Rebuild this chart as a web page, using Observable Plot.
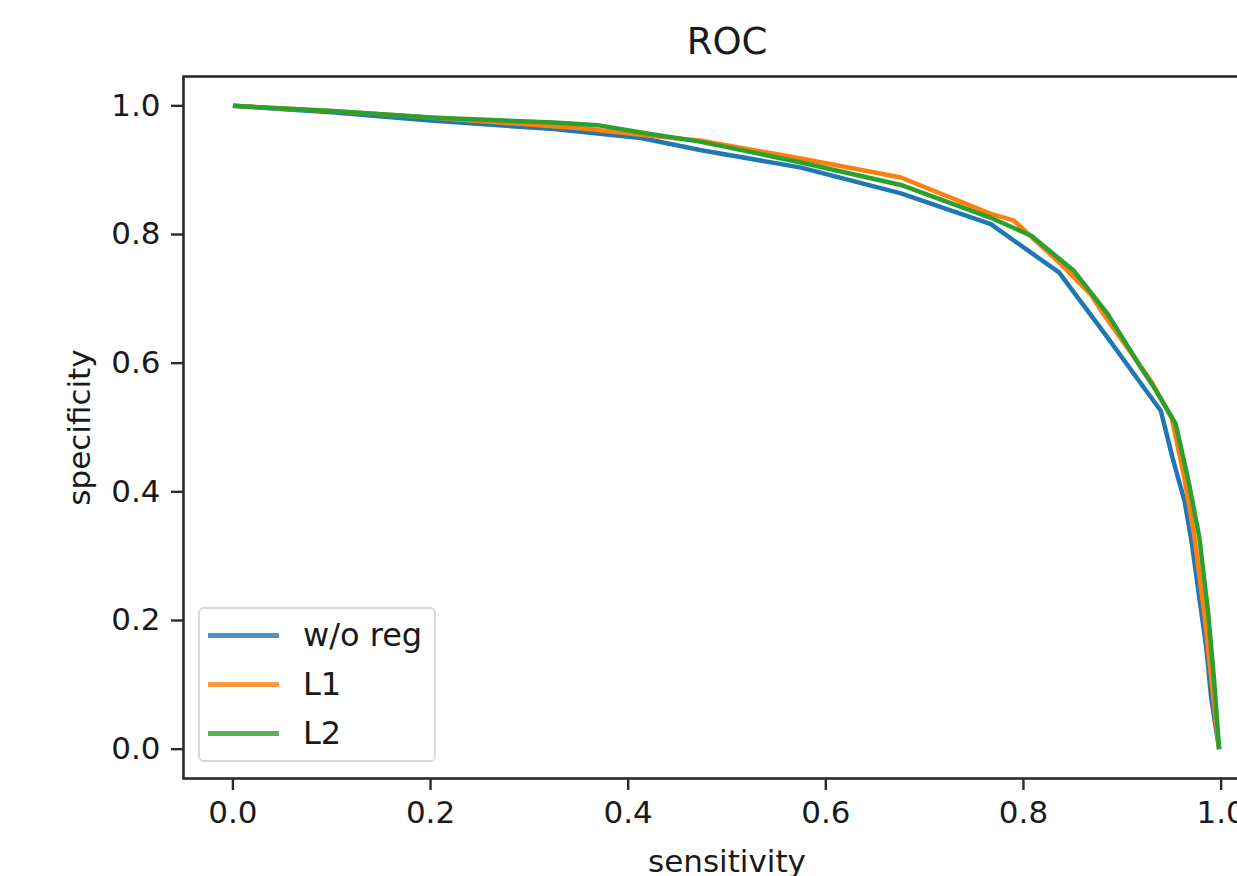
<!DOCTYPE html>
<html><head><meta charset="utf-8">
<script src="https://cdn.jsdelivr.net/npm/d3@7"></script>
<script src="https://cdn.jsdelivr.net/npm/@observablehq/plot@0.6"></script>
<style>
html,body{margin:0;padding:0;background:#fff;overflow:hidden}
#wrap{position:relative;width:1237px;height:876px;overflow:hidden}
#legend{position:absolute;left:198px;top:607px;width:234px;height:151px;border:2.5px solid #d9d9d9;border-radius:6px;background:rgba(255,255,255,0.8);font-family:"DejaVu Sans";font-size:32px;color:#1a1a1a}
.lrow{position:absolute;left:0;height:40px}
.lline{position:absolute;left:8px;width:71px;height:5px}
.ltext{position:absolute;left:103px;line-height:40px;white-space:nowrap}
</style></head>
<body><div id="wrap"></div>
<script>
const title = "ROC";
const xLabel = "sensitivity";
const yLabel = "specificity";
const seriesNames = ["w/o reg", "L1", "L2"];
const seriesColors = ["#1f77b4", "#ff7f0e", "#2ca02c"];
const xTicks = [0, 0.2, 0.4, 0.6, 0.8, 1.0];
const yTicks = [0, 0.2, 0.4, 0.6, 0.8, 1.0];

const sensWoReg = [0, 0.1, 0.2, 0.325, 0.413, 0.474, 0.575, 0.676, 0.767, 0.836, 0.885, 0.919, 0.939, 0.951, 0.963, 0.970, 0.978, 0.985, 0.990, 0.998];
const specWoReg = [1.0, 0.99, 0.977, 0.964, 0.950, 0.931, 0.904, 0.864, 0.816, 0.741, 0.640, 0.568, 0.526, 0.452, 0.386, 0.324, 0.235, 0.158, 0.080, 0.0];

const sensL1 = [0, 0.1, 0.2, 0.352, 0.413, 0.474, 0.575, 0.676, 0.767, 0.79, 0.838, 0.868, 0.882, 0.929, 0.950, 0.963, 0.973, 0.983, 0.990, 0.998];
const specL1 = [1.0, 0.992, 0.982, 0.965, 0.955, 0.9456, 0.918, 0.8886, 0.832, 0.822, 0.754, 0.707, 0.674, 0.5725, 0.515, 0.42, 0.33, 0.21, 0.11, 0.0];

const sensL2 = [0, 0.1, 0.2, 0.325, 0.369, 0.413, 0.474, 0.575, 0.676, 0.767, 0.808, 0.851, 0.885, 0.919, 0.931, 0.954, 0.967, 0.978, 0.987, 0.993, 0.998];
const specL2 = [1.0, 0.992, 0.982, 0.974, 0.970, 0.9585, 0.944, 0.912, 0.877, 0.826, 0.798, 0.7435, 0.677, 0.593, 0.565, 0.506, 0.417, 0.329, 0.211, 0.106, 0.0];

const sensAll = [sensWoReg, sensL1, sensL2];
const specAll = [specWoReg, specL1, specL2];
const rows = [];
seriesNames.forEach((name, i) => {
  sensAll[i].forEach((x, j) => rows.push({series: name, x, y: specAll[i][j]}));
});

const font = "DejaVu Sans";
const axisColor = "#2b2b2b";

const chart = Plot.plot({
  width: 1237,
  height: 876,
  marginLeft: 183,
  marginRight: -33,
  marginTop: 76,
  marginBottom: 98,
  style: {fontFamily: font, background: "white", color: "#1a1a1a"},
  x: {domain: [-0.05, 1.05]},
  y: {domain: [-0.0456, 1.0456]},
  color: {domain: seriesNames, range: seriesColors},
  marks: [
    Plot.line(rows, {x: "x", y: "y", z: "series", stroke: "series", strokeWidth: 4.5, strokeLinejoin: "round", strokeLinecap: "butt"}),
    Plot.axisX({ticks: xTicks, tickFormat: d3.format(".1f"), tickSize: 12, tickPadding: 10, fontSize: 31, stroke: axisColor, strokeWidth: 2.4, fill: "#1a1a1a", label: null}),
    Plot.axisY({ticks: yTicks, tickFormat: d3.format(".1f"), tickSize: 12, tickPadding: 11, fontSize: 31, stroke: axisColor, strokeWidth: 2.4, fill: "#1a1a1a", label: null}),
    Plot.frame({stroke: axisColor, strokeWidth: 2.6}),
    Plot.text([title], {frameAnchor: "top", lineAnchor: "middle", textAnchor: "middle", dy: -34, fontSize: 37, fill: "#1a1a1a"}),
    Plot.text([xLabel], {frameAnchor: "bottom", lineAnchor: "middle", textAnchor: "middle", dy: 84, fontSize: 31, fill: "#1a1a1a"}),
    Plot.text([yLabel], {frameAnchor: "left", lineAnchor: "middle", textAnchor: "middle", dx: -103, rotate: -90, fontSize: 31, fill: "#1a1a1a"})
  ]
});
const wrap = document.getElementById("wrap");
wrap.appendChild(chart);

const legend = document.createElement("div");
legend.id = "legend";
seriesNames.forEach((name, i) => {
  const row = document.createElement("div");
  row.className = "lrow";
  row.style.top = (6 + i * 49) + "px";
  const line = document.createElement("div");
  line.className = "lline";
  line.style.top = "17.5px";
  line.style.background = seriesColors[i];
  line.style.opacity = 0.8;
  const txt = document.createElement("div");
  txt.className = "ltext";
  txt.textContent = name;
  row.appendChild(line);
  row.appendChild(txt);
  legend.appendChild(row);
});
wrap.appendChild(legend);
</script>
</body></html>
